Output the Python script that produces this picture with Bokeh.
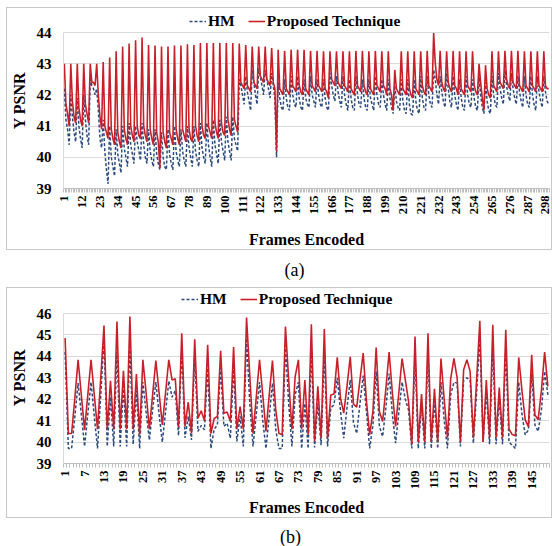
import math
from bokeh.plotting import figure
from bokeh.models import Range1d, FixedTicker, Legend, LegendItem, Label, Spacer
from bokeh.layouts import column, row
from bokeh.embed import file_html
from bokeh.resources import INLINE

# ---------------- data: panel (a) ----------------
frames_a = list(range(1, 301))
ticks_a = [1, 12, 23, 34, 45, 56, 67, 78, 89, 100, 111, 122, 133, 144, 155, 166,
           177, 188, 199, 210, 221, 232, 243, 254, 265, 276, 287, 298]
yticks_a = [39, 40, 41, 42, 43, 44]

prop_a = [
    43.0, 41.7, 41.4, 41.0, 43.0, 41.8, 41.3, 41.1, 43.0, 41.6, 41.2, 41.0, 43.0, 41.7, 41.4, 41.1,
    43.0, 42.4, 42.4, 42.3, 43.0, 42.0, 41.3, 40.9, 43.05, 41.0, 40.8, 40.6, 43.2, 40.9, 40.6, 40.4,
    43.4, 40.8, 40.5, 40.3, 43.55, 40.9, 40.6, 40.4, 43.65, 41.0, 40.7, 40.5, 43.75, 41.0, 40.7, 40.6,
    43.84, 41.0, 40.7, 40.5, 43.6, 40.9, 40.6, 40.4, 43.58, 40.8, 40.5, 39.65, 43.55, 40.8, 40.5, 40.3,
    43.55, 40.8, 40.6, 40.4, 43.58, 40.9, 40.6, 40.4, 43.58, 40.9, 40.7, 40.5, 43.62, 40.9, 40.6, 40.5,
    43.6, 41.0, 40.7, 40.5, 43.66, 41.0, 40.7, 40.6, 43.66, 41.0, 40.8, 40.6, 43.66, 41.1, 40.8, 40.6,
    43.66, 41.1, 40.8, 40.7, 43.66, 41.2, 40.9, 40.7, 43.66, 41.2, 41.0, 40.8, 43.65, 42.4, 42.3, 42.2,
    43.6, 42.3, 42.2, 42.1, 43.55, 42.4, 42.3, 42.2, 43.55, 42.6, 42.5, 42.4, 43.55, 42.5, 42.4, 42.3,
    43.5, 42.4, 42.2, 40.2, 43.45, 42.2, 42.1, 42.0, 43.41, 42.2, 42.1, 42.0, 43.45, 42.3, 42.2, 42.1,
    43.45, 42.3, 42.1, 42.0, 43.45, 42.2, 42.1, 42.0, 43.41, 42.3, 42.2, 42.1, 43.41, 42.3, 42.2, 42.1,
    43.4, 42.2, 42.1, 41.9, 43.4, 42.5, 42.4, 42.3, 43.4, 42.4, 42.3, 42.2, 43.4, 42.3, 42.2, 42.1,
    43.4, 42.2, 42.1, 42.0, 43.41, 42.3, 42.2, 42.1, 43.41, 42.3, 42.1, 42.0, 43.4, 42.2, 42.1, 42.0,
    43.41, 42.3, 42.2, 42.1, 43.4, 42.3, 42.2, 42.0, 43.4, 42.2, 42.0, 41.5, 42.8, 42.2, 42.1, 42.0,
    43.4, 42.2, 42.1, 42.0, 43.4, 42.2, 42.0, 41.9, 43.4, 42.2, 42.1, 42.0, 43.4, 42.3, 42.1, 42.0,
    43.41, 42.3, 42.2, 42.1, 43.98, 43.0, 42.5, 42.3, 43.41, 42.4, 42.2, 42.1, 43.4, 42.4, 42.2, 42.1,
    43.41, 42.3, 42.2, 42.0, 43.4, 42.2, 42.1, 42.0, 43.4, 42.3, 42.2, 42.1, 43.4, 42.3, 42.1, 42.0,
    43.0, 42.4, 41.9, 41.5, 42.95, 42.2, 42.0, 41.9, 43.4, 42.3, 42.2, 42.1, 43.4, 42.4, 42.3, 42.2,
    43.41, 42.5, 42.3, 42.2, 43.41, 42.4, 42.3, 42.2, 43.41, 42.3, 42.2, 42.1, 43.4, 42.3, 42.2, 42.1,
    43.4, 42.3, 42.2, 42.1, 43.4, 42.3, 42.2, 42.1, 43.4, 42.3, 42.2, 42.2,
]

hm_a = [
    42.2, 41.2, 40.9, 40.4, 42.0, 41.3, 40.8, 40.5, 41.9, 41.0, 40.6, 40.3, 42.0, 41.2, 40.7, 40.4,
    42.5, 42.3, 42.2, 42.0, 42.2, 41.5, 40.6, 40.3, 41.2, 40.2, 39.6, 39.15, 41.0, 40.0, 39.7, 39.4,
    40.9, 40.1, 39.8, 39.5, 41.0, 40.3, 40.0, 39.7, 41.1, 40.4, 40.1, 39.8, 41.0, 40.5, 40.2, 39.9,
    41.1, 40.4, 40.0, 39.8, 40.9, 40.2, 39.9, 39.7, 40.9, 40.1, 39.8, 39.6, 40.8, 40.0, 39.7, 39.6,
    40.9, 40.1, 39.8, 39.6, 41.0, 40.2, 39.9, 39.7, 40.9, 40.2, 39.9, 39.7, 41.0, 40.3, 40.0, 39.7,
    41.0, 40.2, 39.9, 39.7, 41.1, 40.3, 40.0, 39.8, 41.1, 40.4, 40.0, 39.7, 41.2, 40.4, 40.1, 39.8,
    41.2, 40.5, 40.2, 39.9, 41.3, 40.5, 40.2, 39.9, 41.3, 40.6, 40.4, 40.2, 42.5, 42.3, 42.0, 41.7,
    42.6, 42.1, 41.8, 41.5, 42.8, 42.4, 42.0, 41.7, 42.85, 42.6, 42.3, 42.0, 42.8, 42.5, 42.2, 41.9,
    42.7, 42.3, 41.9, 40.0, 42.4, 41.9, 41.6, 41.5, 42.5, 41.9, 41.6, 41.5, 42.6, 42.0, 41.7, 41.6,
    42.6, 41.9, 41.6, 41.5, 42.5, 41.9, 41.7, 41.6, 42.6, 42.0, 41.8, 41.6, 42.5, 42.0, 41.7, 41.6,
    42.5, 41.9, 41.6, 41.5, 42.7, 42.3, 42.0, 41.8, 42.6, 42.1, 41.8, 41.6, 42.6, 42.0, 41.7, 41.5,
    42.5, 41.9, 41.6, 41.5, 42.6, 42.0, 41.7, 41.6, 42.5, 41.9, 41.6, 41.5, 42.5, 41.9, 41.7, 41.5,
    42.6, 42.0, 41.7, 41.6, 42.5, 42.0, 41.7, 41.5, 42.5, 41.9, 41.6, 41.4, 42.3, 41.8, 41.6, 41.5,
    42.5, 41.8, 41.5, 41.4, 42.5, 41.7, 41.4, 41.35, 42.5, 41.8, 41.5, 41.4, 42.6, 41.9, 41.6, 41.5,
    42.6, 42.0, 41.7, 41.6, 42.8, 42.5, 42.0, 41.7, 42.6, 42.1, 41.8, 41.6, 42.7, 42.2, 41.8, 41.6,
    42.6, 42.0, 41.7, 41.5, 42.5, 41.9, 41.6, 41.5, 42.6, 42.0, 41.7, 41.6, 42.5, 41.9, 41.6, 41.5,
    42.6, 42.0, 41.6, 41.4, 42.4, 41.8, 41.5, 41.4, 42.6, 42.0, 41.7, 41.6, 42.7, 42.2, 41.9, 41.7,
    42.8, 42.3, 42.0, 41.8, 42.7, 42.2, 41.9, 41.7, 42.6, 42.1, 41.8, 41.6, 42.6, 42.0, 41.7, 41.6,
    42.6, 42.0, 41.7, 41.5, 42.6, 42.1, 41.8, 41.6, 42.6, 42.1, 41.8, 41.7,
]

# ---------------- data: panel (b) ----------------
frames_b = list(range(1, 151))
ticks_b = [1, 7, 13, 19, 25, 31, 37, 43, 49, 55, 61, 67, 73, 79, 85, 91, 97,
           103, 109, 115, 121, 127, 133, 139, 145]
yticks_b = [39, 40, 41, 42, 43, 44, 45, 46]

prop_b = [
    44.85, 40.4, 40.4, 42.05, 43.84, 42.2, 40.57, 42.2, 43.84, 42.2, 40.6, 43.0, 45.44, 40.6, 42.86, 40.6,
    45.63, 40.6, 43.33, 40.6, 45.86, 40.6, 43.17, 40.35, 43.84, 42.3, 40.6, 42.2, 43.8, 42.3, 40.8, 42.3,
    43.84, 42.9, 42.95, 40.7, 45.08, 40.73, 41.86, 40.41, 44.8, 41.11, 41.46, 41.0, 44.54, 40.4, 41.1, 41.2,
    44.26, 41.35, 41.4, 40.96, 44.44, 40.6, 41.66, 40.6, 45.81, 43.1, 40.4, 42.1, 43.84, 42.2, 40.5, 42.2,
    43.8, 41.5, 40.4, 40.35, 45.39, 42.9, 40.6, 43.06, 43.84, 40.6, 42.9, 40.34, 45.5, 40.03, 42.6, 40.17,
    45.28, 40.17, 42.2, 42.24, 43.95, 42.05, 41.35, 42.6, 43.98, 41.77, 41.63, 42.9, 44.15, 41.92, 40.34, 41.43,
    44.41, 41.43, 40.96, 42.5, 44.2, 42.3, 40.73, 42.3, 43.9, 42.9, 41.9, 39.9, 44.93, 40.0, 42.24, 40.0,
    45.08, 40.0, 42.49, 40.0, 43.9, 42.0, 40.2, 42.95, 43.9, 42.98, 40.0, 43.37, 43.84, 43.3, 40.2, 42.9,
    45.66, 40.0, 42.9, 40.2, 45.47, 40.2, 42.54, 40.2, 45.24, 40.6, 40.35, 40.3, 43.95, 42.4, 41.04, 40.72,
    44.07, 41.27, 41.04, 42.4, 44.2, 42.6,
]

hm_b = [
    44.2, 39.7, 39.7, 41.2, 42.75, 41.3, 39.8, 41.3, 42.8, 41.2, 39.7, 42.2, 44.85, 39.8, 42.1, 39.8,
    44.2, 39.8, 42.6, 39.8, 44.55, 39.9, 42.4, 39.7, 42.8, 41.4, 40.1, 41.5, 42.8, 41.3, 40.0, 41.4,
    42.85, 42.1, 42.4, 40.3, 44.4, 40.2, 41.2, 40.1, 44.0, 40.5, 40.77, 40.57, 43.45, 39.7, 40.6, 40.8,
    43.45, 40.73, 40.88, 40.18, 43.5, 40.03, 41.2, 39.8, 44.85, 41.8, 39.8, 41.3, 42.8, 41.0, 39.7, 41.2,
    42.75, 40.6, 39.7, 39.7, 44.5, 41.8, 39.8, 42.2, 42.8, 39.7, 41.8, 39.7, 44.22, 39.75, 41.8, 39.85,
    44.2, 39.8, 41.6, 41.74, 43.0, 41.43, 40.18, 41.6, 42.9, 40.9, 40.4, 41.8, 43.1, 41.43, 39.7, 40.8,
    43.3, 40.73, 40.26, 41.6, 43.2, 41.3, 39.95, 41.4, 42.8, 42.0, 41.5, 39.7, 43.99, 39.7, 41.7, 39.7,
    44.1, 39.7, 41.9, 39.7, 42.8, 41.0, 39.7, 42.2, 42.8, 42.75, 39.8, 42.9, 43.0, 42.9, 39.95, 42.3,
    44.85, 40.0, 42.4, 39.9, 44.55, 39.9, 42.0, 39.9, 44.3, 40.0, 39.85, 39.7, 42.8, 41.3, 40.34, 40.57,
    43.2, 40.8, 40.5, 41.5, 43.3, 42.2,
]

series_names = ["HM", "Proposed Technique"]
x_title = "Frames Encoded"
y_title = "Y PSNR"
captions = ["(a)", "(b)"]

SERIF = "Liberation Serif"
RED = "#c8202a"
BLUE = "#2c4a7c"
GRID = "#d9d9d9"
W = 546          # figure width (page x 6..552)
BL, BR = 56, 4   # shared left/right borders -> frame spans page x 62..548
X0, X1 = 6 + BL, 6 + W - BR


def make_panel(frames, hm, prop, ticks, yticks, height, btop, bbottom,
               ytop, legend_loc, xlab_standoff):
    p = figure(width=W, height=height,
               x_range=Range1d(0.5, len(frames) + 0.5),
               y_range=Range1d(yticks[0], ytop),
               toolbar_location=None, output_backend="svg",
               min_border_left=BL, min_border_right=BR,
               min_border_top=btop, min_border_bottom=bbottom)
    p.outline_line_color = None
    p.styles = {"border": "1px solid #c8c8c8", "box-sizing": "border-box"}

    r_hm = p.line(frames, hm, line_color=BLUE, line_width=1.5, line_dash="3 2")
    r_pr = p.line(frames, prop, line_color=RED, line_width=1.6)

    xa = p.xaxis[0]
    xa.ticker = FixedTicker(ticks=ticks,
                            minor_ticks=[i + 0.5 for i in range(len(frames) + 1)])
    xa.major_label_orientation = math.pi / 2
    xa.major_tick_line_color = None
    xa.major_tick_out = 4
    xa.major_tick_in = 0
    xa.minor_tick_out = 4
    xa.minor_tick_in = 0
    xa.minor_tick_line_color = "#bfbfbf"
    xa.axis_line_color = "#bfbfbf"
    xa.major_label_standoff = 3
    xa.major_label_text_font = SERIF
    xa.major_label_text_font_style = "bold"
    xa.major_label_text_font_size = "12.5px"
    xa.major_label_text_color = "#000000"
    xa.axis_label = x_title
    xa.axis_label_text_font = SERIF
    xa.axis_label_text_font_style = "bold"
    xa.axis_label_text_font_size = "16px"
    xa.axis_label_text_color = "#000000"
    xa.axis_label_standoff = xlab_standoff

    ya = p.yaxis[0]
    ya.ticker = FixedTicker(ticks=yticks, minor_ticks=[])
    ya.bounds = (yticks[0], yticks[-1])
    ya.major_tick_line_color = None
    ya.major_tick_out = 0
    ya.major_tick_in = 0
    ya.minor_tick_line_color = None
    ya.axis_line_color = GRID
    ya.major_label_standoff = 12
    ya.major_label_text_font = SERIF
    ya.major_label_text_font_style = "bold"
    ya.major_label_text_font_size = "15px"
    ya.major_label_text_color = "#000000"
    ya.axis_label = y_title
    ya.axis_label_text_font = SERIF
    ya.axis_label_text_font_style = "bold"
    ya.axis_label_text_font_size = "16px"
    ya.axis_label_text_color = "#000000"
    ya.axis_label_standoff = 6

    p.xgrid.grid_line_color = None
    p.ygrid.grid_line_color = GRID
    p.ygrid.grid_line_width = 1

    legend = Legend(items=[LegendItem(label=series_names[0], renderers=[r_hm]),
                           LegendItem(label=series_names[1], renderers=[r_pr])],
                    location=legend_loc, orientation="horizontal",
                    padding=0, margin=0, spacing=13, label_standoff=2,
                    glyph_width=17, glyph_height=16, label_height=16,
                    label_text_font=SERIF, label_text_font_style="bold",
                    label_text_font_size="15.5px", label_text_color="#000000",
                    background_fill_alpha=0, border_line_color=None)
    p.add_layout(legend)
    return p


def make_caption(text, height, ypos, xpos):
    # x range expressed in page pixels over the (aligned) frame
    c = figure(width=W, height=height, x_range=Range1d(X0, X1),
               y_range=Range1d(0, height), toolbar_location=None,
               output_backend="svg", min_border_left=BL, min_border_right=BR,
               min_border_top=0, min_border_bottom=0,
               x_axis_type=None, y_axis_type=None)
    c.grid.visible = False
    c.outline_line_color = None
    c.add_layout(Label(x=xpos, y=ypos, text=text, text_font=SERIF,
                       text_font_size="18px", text_align="center",
                       text_baseline="middle", text_color="#000000"))
    return c


fig_a = make_panel(frames_a, hm_a, prop_a, ticks_a, yticks_a, 243, 4, 63,
                   39 + 176 / 31.2, (126, 158), 14)
cap_a = make_caption(captions[0], 37, 18, 294)
fig_b = make_panel(frames_b, hm_b, prop_b, ticks_b, yticks_b, 231, 3, 56,
                   39 + 172 / (150 / 7), (118, 155), 7)
cap_b = make_caption(captions[1], 28, 10, 290)

inner = column(Spacer(width=W, height=7), fig_a, cap_a, fig_b, cap_b, spacing=0)
layout = row(Spacer(width=6, height=546), inner, spacing=0)

open("out.html", "w").write(file_html(layout, INLINE))
